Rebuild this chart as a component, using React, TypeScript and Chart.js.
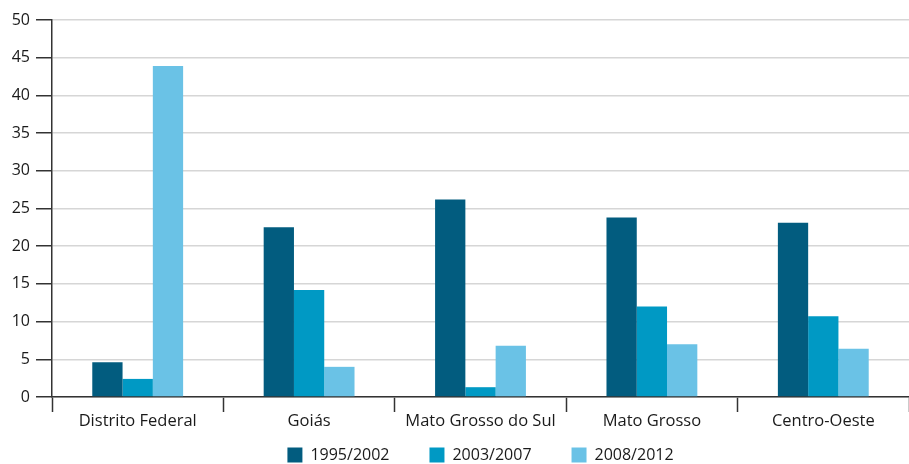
import React, { useEffect, useRef } from "react";
import { Chart, registerables } from "chart.js";

Chart.register(...registerables);

const categories = ["Distrito Federal", "Goiás", "Mato Grosso do Sul", "Mato Grosso", "Centro-Oeste"];
const seriesLabels = ["1995/2002", "2003/2007", "2008/2012"];
const values1995 = [4.6, 22.5, 26.2, 23.8, 23.1];
const values2003 = [2.4, 14.2, 1.3, 12.0, 10.7];
const values2008 = [43.9, 4.0, 6.8, 7.0, 6.4];
const seriesColors = ["#025c7f", "#0099c4", "#6ac2e6"];
const yMin = 0;
const yMax = 50;
const yStep = 5;

export default function App() {
  const ref = useRef<HTMLCanvasElement | null>(null);

  useEffect(() => {
    if (!ref.current) return;
    const font = { family: "'Open Sans', sans-serif", size: 16 };
    const xFont = { family: "'Open Sans', sans-serif", size: 16.5 };
    const seriesValues = [values1995, values2003, values2008];
    const chart = new Chart(ref.current, {
      type: "bar",
      data: {
        labels: categories,
        datasets: seriesLabels.map((label, i) => ({
          label,
          data: seriesValues[i],
          backgroundColor: seriesColors[i],
          borderWidth: 0,
          categoryPercentage: 0.53,
          barPercentage: 1.0,
        })),
      },
      options: {
        responsive: false,
        animation: false,
        layout: { padding: { top: 20, right: 0, left: 0, bottom: -9 } },
        plugins: {
          tooltip: { enabled: false },
          legend: {
            position: "bottom",
            fullSize: false,
            labels: {
              boxWidth: 15,
              boxHeight: 15,
              padding: 40,
              color: "#1a1a1a",
              font,
            },
          },
        },
        scales: {
          x: {
            offset: true,
            grid: {
              offset: true,
              drawOnChartArea: false,
              drawTicks: true,
              tickLength: 15,
              tickColor: "#333333",
              tickWidth: 1.5,
            },
            border: { display: true, color: "#333333", width: 1.5 },
            ticks: {
              color: "#1a1a1a",
              font: xFont,
              mirror: true,
              padding: -34,
              maxRotation: 0,
              autoSkip: false,
            },
            afterFit: (scale: any) => {
              scale.height = 10;
            },
          },
          y: {
            min: yMin,
            max: yMax,
            grid: {
              color: "#d6d6d6",
              lineWidth: 1.5,
              tickLength: 16,
              tickColor: "#333333",
              tickWidth: 1.5,
            },
            border: { display: true, color: "#333333", width: 1.5 },
            ticks: { stepSize: yStep, color: "#1a1a1a", font, padding: 6 },
            afterFit: (scale: any) => {
              scale.width = 52;
            },
          },
        },
      },
    });
    return () => chart.destroy();
  }, []);

  return (
    <div style={{ position: "absolute", left: 0, top: 0, width: 909, height: 464, background: "#ffffff" }}>
      <canvas ref={ref} width={909} height={464} style={{ width: 909, height: 464, display: "block" }} />
    </div>
  );
}
